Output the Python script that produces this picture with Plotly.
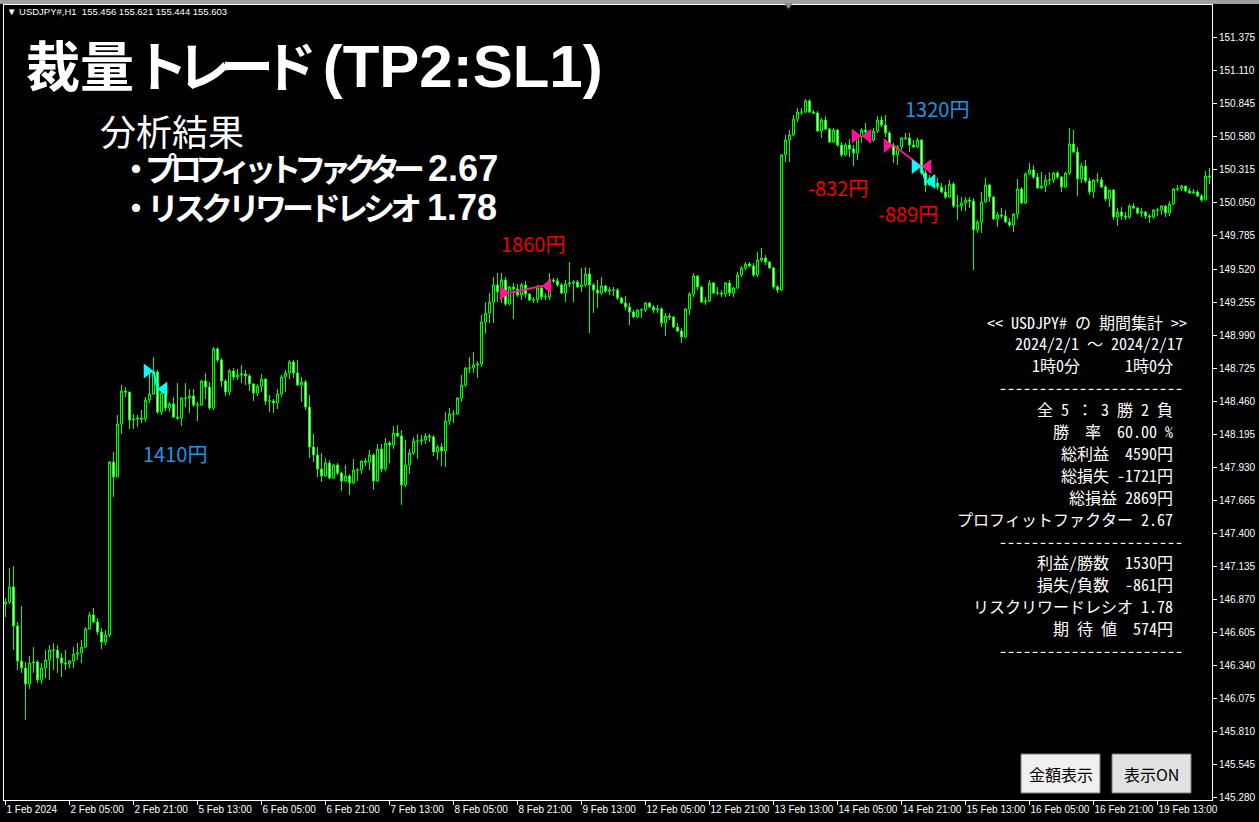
import plotly.graph_objects as go

# ---------------- data (USDJPY#, H1) ----------------
bar_open = [
146.832,146.848,146.969,146.656,146.375,146.319,146.190,146.359,146.367,146.222,
146.319,146.383,146.463,146.463,146.399,146.359,146.351,146.375,146.431,146.439,
146.487,146.632,146.744,146.688,146.608,146.527,146.584,147.971,147.851,148.276,
148.541,148.533,148.308,148.316,148.324,148.316,148.469,148.517,148.694,148.373,
148.525,148.405,148.437,148.332,148.324,148.485,148.485,148.501,148.429,148.429,
148.621,148.573,148.405,148.878,148.790,148.621,148.533,148.702,148.654,148.670,
148.678,148.662,148.597,148.525,148.581,148.637,148.461,148.461,148.445,148.517,
148.654,148.686,148.774,148.686,148.589,148.613,148.413,148.092,148.028,147.915,
147.859,147.963,147.843,147.947,147.883,147.819,147.859,147.803,147.907,147.907,
147.979,147.971,148.028,147.819,148.076,147.915,148.124,148.108,148.204,148.180,
147.787,147.947,148.044,148.140,148.140,148.148,148.180,148.172,148.052,148.092,
148.060,148.300,148.357,148.357,148.485,148.589,148.726,148.726,148.750,148.758,
149.095,149.167,149.255,149.392,149.335,149.432,149.239,149.376,149.359,149.311,
149.392,149.319,149.271,149.271,149.368,149.295,149.295,149.432,149.424,149.392,
149.327,149.400,149.408,149.416,149.376,149.392,149.480,149.392,149.351,149.327,
149.384,149.343,149.351,149.351,149.287,149.247,149.215,149.175,149.135,149.191,
149.191,149.247,149.215,149.191,149.199,149.087,149.143,149.135,149.054,149.022,
148.974,149.199,149.319,149.464,149.376,149.255,149.263,149.408,149.327,149.327,
149.319,149.408,149.327,149.368,149.472,149.528,149.560,149.544,149.472,149.592,
149.608,149.576,149.528,149.376,149.351,150.435,150.555,150.595,150.723,150.779,
150.779,150.868,150.779,150.771,150.627,150.715,150.643,150.539,150.635,150.515,
150.435,150.515,150.483,150.451,150.579,150.635,150.619,150.555,150.627,150.715,
150.675,150.611,150.515,150.435,150.499,150.571,150.571,150.515,150.499,150.555,
150.290,150.194,150.250,150.210,150.178,150.138,150.097,150.202,150.025,150.025,
150.049,150.073,150.065,149.833,149.897,150.057,150.194,150.097,149.921,149.953,
149.945,149.897,149.873,149.961,150.162,150.049,150.282,150.314,150.258,150.170,
150.186,150.234,150.234,150.290,150.258,150.178,150.290,150.523,150.459,150.242,
150.346,150.226,150.138,150.234,150.234,150.178,150.081,150.154,149.937,149.977,
149.945,149.937,150.025,150.009,149.969,149.977,149.945,149.937,149.993,149.993,
150.025,149.969,150.041,150.162,150.162,150.186,150.146,150.130,150.138,150.106,
150.073,150.266]

bar_high = [
146.880,147.121,147.137,146.688,146.816,146.367,146.415,146.487,146.383,146.359,
146.463,146.503,146.519,146.503,146.439,146.463,146.383,146.487,146.519,146.543,
146.648,146.768,146.800,146.720,146.640,146.624,147.979,148.052,148.349,148.589,
148.573,148.533,148.357,148.349,148.389,148.493,148.686,148.814,148.710,148.549,
148.565,148.453,148.493,148.605,148.493,148.605,148.557,148.557,148.453,148.629,
148.686,148.613,148.894,148.894,148.806,148.637,148.718,148.726,148.718,148.750,
148.710,148.678,148.605,148.597,148.678,148.637,148.509,148.477,148.557,148.670,
148.710,148.790,148.790,148.790,148.654,148.629,148.509,148.196,148.092,148.044,
148.003,147.987,147.955,147.963,147.891,147.947,147.875,147.995,147.923,147.987,
148.003,148.068,148.044,148.116,148.116,148.164,148.140,148.260,148.268,148.228,
148.148,148.076,148.172,148.196,148.188,148.204,148.196,148.188,148.108,148.124,
148.373,148.405,148.389,148.493,148.670,148.734,148.814,148.854,148.782,149.151,
149.255,149.327,149.456,149.488,149.488,149.456,149.384,149.408,149.400,149.408,
149.424,149.327,149.295,149.392,149.392,149.327,149.488,149.448,149.448,149.408,
149.432,149.576,149.432,149.432,149.528,149.536,149.528,149.408,149.432,149.456,
149.392,149.376,149.376,149.368,149.295,149.303,149.247,149.191,149.199,149.207,
149.255,149.255,149.231,149.231,149.215,149.167,149.167,149.143,149.087,149.046,
149.207,149.335,149.488,149.472,149.384,149.295,149.432,149.416,149.376,149.351,
149.416,149.432,149.376,149.496,149.544,149.576,149.576,149.568,149.656,149.688,
149.632,149.584,149.536,149.392,150.443,150.595,150.635,150.755,150.812,150.812,
150.884,150.884,150.795,150.787,150.731,150.747,150.651,150.651,150.643,150.539,
150.531,150.563,150.515,150.611,150.651,150.691,150.635,150.651,150.747,150.747,
150.755,150.627,150.531,150.515,150.579,150.611,150.611,150.555,150.571,150.563,
150.314,150.274,150.274,150.250,150.210,150.194,150.234,150.218,150.114,150.097,
150.097,150.097,150.089,149.913,150.138,150.250,150.202,150.105,149.977,150.009,
149.993,149.929,149.969,150.242,150.178,150.298,150.370,150.354,150.290,150.298,
150.274,150.298,150.298,150.306,150.266,150.298,150.651,150.635,150.499,150.370,
150.394,150.250,150.242,150.290,150.258,150.194,150.154,150.162,150.009,150.017,
149.977,150.041,150.049,150.017,150.009,149.985,149.961,150.001,150.009,150.033,
150.033,150.065,150.170,150.194,150.194,150.186,150.170,150.162,150.154,150.122,
150.306,150.330]

bar_low = [
146.728,146.832,146.463,146.303,146.279,145.901,146.150,146.279,146.198,146.190,
146.238,146.222,146.303,146.279,146.247,146.303,146.319,146.319,146.383,146.359,
146.479,146.624,146.680,146.584,146.471,146.503,146.568,147.691,147.851,148.196,
148.493,148.236,148.236,148.252,148.284,148.292,148.445,148.509,148.357,148.349,
148.381,148.373,148.324,148.308,148.260,148.413,148.365,148.413,148.300,148.421,
148.477,148.389,148.389,148.774,148.573,148.501,148.509,148.629,148.629,148.605,
148.589,148.541,148.461,148.501,148.533,148.429,148.373,148.365,148.397,148.493,
148.533,148.637,148.645,148.581,148.453,148.389,148.003,147.971,147.851,147.811,
147.851,147.835,147.835,147.867,147.739,147.811,147.707,147.795,147.819,147.875,
147.939,147.907,147.747,147.811,147.891,147.899,147.963,148.076,148.172,147.627,
147.771,147.875,148.028,147.995,148.108,148.116,148.132,148.020,147.987,147.939,
147.931,148.268,148.284,148.349,148.453,148.573,148.686,148.686,148.645,148.734,
149.000,149.087,149.087,149.255,149.247,149.223,149.231,149.119,149.295,149.271,
149.287,149.263,149.247,149.247,149.271,149.271,149.271,149.408,149.376,149.319,
149.255,149.376,149.255,149.368,149.335,149.376,149.006,149.167,149.207,149.311,
149.327,149.311,149.303,149.271,149.239,149.191,149.070,149.127,149.127,149.127,
149.175,149.207,149.167,149.167,149.054,148.982,149.111,149.046,149.014,148.926,
148.966,149.151,149.295,149.351,149.247,149.231,149.255,149.319,149.311,149.295,
149.295,149.303,149.295,149.359,149.456,149.512,149.536,149.456,149.456,149.576,
149.552,149.520,149.359,149.327,149.343,150.378,150.378,150.587,150.699,150.755,
150.771,150.771,150.763,150.619,150.571,150.635,150.531,150.531,150.499,150.418,
150.426,150.418,150.346,150.394,150.531,150.571,150.531,150.539,150.611,150.659,
150.579,150.499,150.370,150.354,150.475,150.555,150.459,150.491,150.491,150.274,
150.138,150.186,150.178,150.154,150.130,150.081,150.089,150.009,149.913,149.985,
149.985,150.009,149.512,149.809,149.809,150.049,150.057,149.913,149.857,149.929,
149.889,149.857,149.817,149.921,150.041,150.041,150.274,150.242,150.162,150.162,
150.138,150.194,150.210,150.242,150.138,150.170,150.274,150.451,150.106,150.210,
150.210,150.114,150.089,150.210,150.170,150.065,150.017,149.913,149.865,149.913,
149.913,149.921,150.001,149.953,149.937,149.921,149.889,149.921,149.945,149.953,
149.937,149.945,150.033,150.146,150.146,150.138,150.122,150.122,150.097,150.057,
150.073,150.202]

bar_close = [
146.848,146.969,146.656,146.375,146.319,146.190,146.359,146.367,146.222,146.319,
146.383,146.463,146.463,146.399,146.359,146.351,146.375,146.431,146.439,146.487,
146.632,146.744,146.688,146.608,146.527,146.584,147.971,147.851,148.276,148.541,
148.533,148.308,148.316,148.324,148.316,148.469,148.517,148.694,148.373,148.525,
148.405,148.437,148.332,148.324,148.485,148.485,148.501,148.429,148.429,148.621,
148.573,148.405,148.878,148.790,148.621,148.533,148.702,148.654,148.670,148.678,
148.662,148.597,148.525,148.581,148.637,148.461,148.461,148.445,148.517,148.654,
148.686,148.774,148.686,148.589,148.613,148.413,148.092,148.028,147.915,147.859,
147.963,147.843,147.947,147.883,147.819,147.859,147.803,147.907,147.907,147.979,
147.971,148.028,147.819,148.076,147.915,148.124,148.108,148.204,148.180,147.787,
147.947,148.044,148.140,148.140,148.148,148.180,148.172,148.052,148.092,148.060,
148.300,148.357,148.357,148.485,148.589,148.726,148.726,148.750,148.758,149.095,
149.167,149.255,149.392,149.335,149.432,149.239,149.376,149.359,149.311,149.392,
149.319,149.271,149.271,149.368,149.295,149.295,149.432,149.424,149.392,149.327,
149.400,149.408,149.416,149.376,149.392,149.480,149.392,149.351,149.327,149.384,
149.343,149.351,149.351,149.287,149.247,149.215,149.175,149.135,149.191,149.191,
149.247,149.215,149.191,149.199,149.087,149.143,149.135,149.054,149.022,148.974,
149.199,149.319,149.464,149.376,149.255,149.263,149.408,149.327,149.327,149.319,
149.408,149.327,149.368,149.472,149.528,149.560,149.544,149.472,149.592,149.608,
149.576,149.528,149.376,149.351,150.435,150.555,150.595,150.723,150.779,150.779,
150.868,150.779,150.771,150.627,150.715,150.643,150.539,150.635,150.515,150.435,
150.515,150.483,150.451,150.579,150.635,150.619,150.555,150.627,150.715,150.675,
150.611,150.515,150.435,150.499,150.571,150.571,150.515,150.499,150.555,150.290,
150.194,150.250,150.210,150.178,150.138,150.097,150.202,150.025,150.025,150.049,
150.073,150.065,149.833,149.897,150.057,150.194,150.097,149.921,149.953,149.945,
149.897,149.873,149.961,150.162,150.049,150.282,150.314,150.258,150.170,150.186,
150.234,150.234,150.290,150.258,150.178,150.290,150.523,150.459,150.242,150.346,
150.226,150.138,150.234,150.234,150.178,150.081,150.154,149.937,149.977,149.945,
149.937,150.025,150.009,149.969,149.977,149.945,149.937,149.993,149.993,150.025,
149.969,150.041,150.162,150.162,150.186,150.146,150.130,150.138,150.106,150.073,
150.266,150.258]

# time-axis labels (every 16 bars)
time_tick_bars = [0, 16, 32, 48, 64, 80, 96, 112, 128, 144, 160, 176, 192, 208, 224, 240, 256, 272, 288]
time_tick_labels = ["1 Feb 2024", "2 Feb 05:00", "2 Feb 21:00", "5 Feb 13:00", "6 Feb 05:00",
                    "6 Feb 21:00", "7 Feb 13:00", "8 Feb 05:00", "8 Feb 21:00", "9 Feb 13:00",
                    "12 Feb 05:00", "12 Feb 21:00", "13 Feb 13:00", "14 Feb 05:00", "14 Feb 21:00",
                    "15 Feb 13:00", "16 Feb 05:00", "16 Feb 21:00", "19 Feb 13:00"]
price_ticks = [145.280, 145.545, 145.810, 146.075, 146.340, 146.605, 146.870, 147.135,
               147.400, 147.665, 147.930, 148.195, 148.460, 148.725, 148.990, 149.255,
               149.520, 149.785, 150.050, 150.315, 150.580, 150.845, 151.110, 151.375]

# trades
trade_side = ["sell", "buy", "buy", "buy", "sell"]
trade_entry_bar = [37, 126, 214, 222, 229]
trade_entry_price = [148.702, 149.327, 150.587, 150.511, 150.342]
trade_exit_bar = [38, 134, 214, 229, 230]
trade_exit_price = [148.557, 149.384, 150.587, 150.342, 150.222]
trade_profit = [1410, 1860, -832, -889, 1320]
label_bar = [42.25, 131.75, 208.0, 225.5, 232.75]
label_price = [148.036, 149.721, 150.170, 149.969, 150.804]

stats_lines = ["<< USDJPY# の 期間集計 >>", "2024/2/1 ～ 2024/2/17", None, "-" * 23,
               "全 5 ： 3 勝 2 負", "勝  率  60.00 %", "総利益  4590円", "総損失 -1721円",
               "総損益 2869円", "プロフィットファクター 2.67", "-" * 23,
               "利益/勝数  1530円", "損失/負数  -861円", "リスクリワードレシオ 1.78",
               "期 待 値  574円", "-" * 23]
period_labels = ["1時0分", "1時0分"]
summary_items = [("・プロフィットファクター", "2.67"), ("・リスクリワードレシオ", "1.78")]

# ---------------- styling helpers ----------------
W, H = 1259, 822
PL, PT, PW, PH = 4, 5, 1208, 795
PX_PER_BAR = 4.0


def fx(px):
    return (px - PL) / PW


def fy(py):
    return (PT + PH - py) / PH


GREEN = "#00FF00"
CYAN = "#00FFFF"
PINK = "#FF1493"
BLUE_TXT = "#1E96E6"
RED_TXT = "#F00000"
JP = "Noto Sans CJK JP"
MONO = "Noto Sans Mono CJK JP, Noto Sans CJK JP"
LAT = "Liberation Sans, Arial, sans-serif"

fig = go.Figure()

fig.add_trace(go.Candlestick(
    x=list(range(len(bar_close))), open=bar_open, high=bar_high, low=bar_low, close=bar_close,
    increasing=dict(line=dict(color=GREEN, width=1), fillcolor="#000000"),
    decreasing=dict(line=dict(color=GREEN, width=1), fillcolor="#FFFFFF"),
    whiskerwidth=0, hoverinfo="skip", showlegend=False))

# trade lines and arrows
marker_size = 13
off = (marker_size / 2) / PX_PER_BAR
for s, eb, ep, xb, xp in zip(trade_side, trade_entry_bar, trade_entry_price,
                             trade_exit_bar, trade_exit_price):
    col = CYAN if s == "sell" else PINK
    fig.add_trace(go.Scatter(x=[eb, xb], y=[ep, xp], mode="lines",
                             line=dict(color=col, width=2), hoverinfo="skip", showlegend=False))
    fig.add_trace(go.Scatter(x=[eb - off], y=[ep], mode="markers",
                             marker=dict(symbol="triangle-right", size=marker_size, color=col,
                                         line=dict(width=0)),
                             hoverinfo="skip", showlegend=False))
    fig.add_trace(go.Scatter(x=[xb + off], y=[xp], mode="markers",
                             marker=dict(symbol="triangle-left", size=marker_size, color=col,
                                         line=dict(width=0)),
                             hoverinfo="skip", showlegend=False))

annotations = []
for s, pr, lb, lp in zip(trade_side, trade_profit, label_bar, label_price):
    annotations.append(dict(x=lb, y=lp, xref="x", yref="y", text=f"{pr}円", showarrow=False,
                            font=dict(family=JP, size=20, color=BLUE_TXT if s == "sell" else RED_TXT),
                            xanchor="center", yanchor="middle"))

# header
annotations.append(dict(x=fx(5), y=fy(12), xref="paper", yref="paper", showarrow=False,
                        text="▼ USDJPY#,H1  155.456 155.621 155.444 155.603".replace(" ", "\u00a0"),
                        font=dict(family=LAT, size=9.5, color="white"),
                        xanchor="left", yanchor="middle"))
# title block
title_html = ("<b>裁量<span style=\"letter-spacing:-11px\">トレード</span>"
              "<span style=\"font-family:Liberation Sans;font-size:60px\">\u00a0(TP2:SL1)</span></b>")
annotations.append(dict(x=fx(24), y=fy(64), xref="paper", yref="paper", showarrow=False,
                        text=title_html,
                        font=dict(family=JP, size=54, color="white"),
                        xanchor="left", yanchor="middle"))
annotations.append(dict(x=fx(98), y=fy(130), xref="paper", yref="paper", showarrow=False,
                        text="分析結果", font=dict(family=JP, size=36, color="white"),
                        xanchor="left", yanchor="middle"))
for (kana, num), yc, ls in zip(summary_items, [167, 206], [-7, -5]):
    html = ("<b><span style=\"letter-spacing:" + str(ls) + "px\">" + kana + "</span>"
            "<span style=\"font-family:Liberation Sans;font-size:36px\">\u00a0" + num + "</span></b>")
    annotations.append(dict(x=fx(118), y=fy(yc), xref="paper", yref="paper", showarrow=False,
                            text=html, font=dict(family=JP, size=32, color="white"),
                            xanchor="left", yanchor="middle"))

# stats panel
right_edges = [1189, 1185, None, 1185, 1175, 1175, 1175, 1175, 1175, 1175, 1185,
               1175, 1175, 1175, 1175, 1185]
for k, (line, rx) in enumerate(zip(stats_lines, right_edges)):
    yc = 321.5 + 21.9 * k
    if line is None:
        annotations.append(dict(x=fx(1030), y=fy(yc), xref="paper", yref="paper", showarrow=False,
                                text=period_labels[0], font=dict(family=MONO, size=16, color="white"),
                                xanchor="left", yanchor="middle"))
        annotations.append(dict(x=fx(1175), y=fy(yc), xref="paper", yref="paper", showarrow=False,
                                text=period_labels[1], font=dict(family=MONO, size=16, color="white"),
                                xanchor="right", yanchor="middle"))
        continue
    annotations.append(dict(x=fx(rx), y=fy(yc), xref="paper", yref="paper", showarrow=False,
                            text=line.replace(" ", "\u00a0"),
                            font=dict(family=MONO, size=16, color="white"),
                            xanchor="right", yanchor="middle"))

# buttons
shapes = []
buttons = [("金額表示", 1021, 1100, "#F0F0F0"), ("表示ON", 1112, 1191, "#E1E1E1")]
for txt, x0, x1, fill in buttons:
    shapes.append(dict(type="rect", xref="paper", yref="paper", x0=fx(x0), x1=fx(x1),
                       y0=fy(793), y1=fy(754), fillcolor=fill, line=dict(color="#7A7A7A", width=1),
                       layer="above"))
    annotations.append(dict(x=fx((x0 + x1) / 2), y=fy(774), xref="paper", yref="paper",
                            showarrow=False, text=txt, font=dict(family=JP, size=16, color="black"),
                            xanchor="center", yanchor="middle"))

# window top bar
shapes.append(dict(type="rect", xref="paper", yref="paper", x0=fx(0), x1=fx(W), y0=fy(0), y1=fy(4),
                   fillcolor="#A0A0A0", line=dict(width=0), layer="above"))
shapes.append(dict(type="path", xref="paper", yref="paper",
                   path=f"M {fx(784)} {fy(3)} L {fx(793)} {fy(3)} L {fx(788.5)} {fy(9)} Z",
                   fillcolor="#8A8A8A", line=dict(width=0), layer="above"))

# x range offset so that each bar centre falls on a pixel centre (4 px per bar)
x_start = -0.375
fig.update_layout(
    width=W, height=H,
    margin=dict(l=PL, r=W - PL - PW, t=PT, b=H - PT - PH, autoexpand=False),
    paper_bgcolor="#000000", plot_bgcolor="#000000",
    showlegend=False,
    annotations=annotations, shapes=shapes,
    xaxis=dict(range=[x_start, x_start + PW / PX_PER_BAR], rangeslider=dict(visible=False),
               automargin=False, tickangle=0,
               showgrid=False, zeroline=False, showline=True, linecolor="white", linewidth=1,
               mirror=True, ticks="outside", ticklen=4, tickcolor="white",
               tickvals=time_tick_bars, ticktext=time_tick_labels,
               ticklabelposition="outside right",
               tickfont=dict(family=LAT, size=10, color="white")),
    yaxis=dict(range=[145.260, 151.638], side="right", showgrid=False, zeroline=False,
               automargin=False,
               showline=True, linecolor="white", linewidth=1, mirror=True,
               ticks="outside", ticklen=4, tickcolor="white",
               tickvals=price_ticks, ticktext=[f"{v:.3f}" for v in price_ticks],
               tickfont=dict(family=LAT, size=10, color="white")),
)

fig.write_html("out.html", config={"displayModeBar": False},
               post_script="document.body.style.margin='0';document.body.style.background='#000';")
